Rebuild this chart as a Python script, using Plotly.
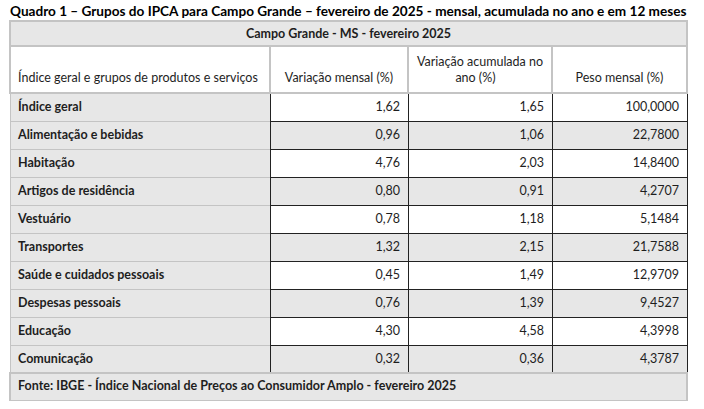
import plotly.graph_objects as go

W, H = 704, 409

title_text = "Quadro 1 – Grupos do IPCA para Campo Grande – fevereiro de 2025 - mensal, acumulada no ano e em 12 meses"
banner_text = "Campo Grande - MS - fevereiro 2025"
footer_text = "Fonte: IBGE - Índice Nacional de Preços ao Consumidor Amplo - fevereiro 2025"

col_headers = ["\u00a0<br>Índice geral e grupos de produtos e serviços", "\u00a0<br>Variação mensal (%)",
               "Variação acumulada no<br>" + "\u00a0" * 12 + "ano (%)", "\u00a0<br>Peso mensal (%)"]

grupos = ["Índice geral", "Alimentação e bebidas", "Habitação", "Artigos de residência",
          "Vestuário", "Transportes", "Saúde e cuidados pessoais", "Despesas pessoais",
          "Educação", "Comunicação"]
var_mensal = ["1,62", "0,96", "4,76", "0,80", "0,78", "1,32", "0,45", "0,76", "4,30", "0,32"]
var_acum = ["1,65", "1,06", "2,03", "0,91", "1,18", "2,15", "1,49", "1,39", "4,58", "0,36"]
peso = ["100,0000", "22,7800", "14,8400", "4,2707", "5,1484", "21,7588", "12,9709",
        "9,4527", "4,3998", "4,3787"]

GRAY = "#e7e7e7"
LGRID = "#c4c4c4"
TXT = "#1e1e1e"
FONT = "Lato"
FS = 12.5

x0, x1 = 10 / W, 687 / W
def yp(px):
    return 1 - px / H

fig = go.Figure()

# main table
alt = [("white" if i % 2 == 0 else GRAY) for i in range(len(grupos))]
fig.add_trace(go.Table(
    domain=dict(x=[x0, x1], y=[yp(385), yp(46)]),
    columnwidth=[260, 138, 144, 135],
    header=dict(values=col_headers, height=44,
                align=["left", "center", "center", "center"],
                fill=dict(color="white"), line=dict(color=LGRID, width=2),
                font=dict(family=FONT, size=FS, color=TXT)),
    cells=dict(values=[grupos, var_mensal, var_acum, peso],
               height=28,
               align=["left", "right", "right", "right"],
               fill=dict(color=[[GRAY] * len(grupos), alt, alt, alt]),
               line=dict(color=[LGRID, "#222222", "#222222", "#222222"], width=1),
               font=dict(family=FONT, size=FS, color=TXT,
                         weight=["bold", "normal", "normal", "normal"])),
))

# banner
fig.add_trace(go.Table(
    domain=dict(x=[x0, x1], y=[yp(46), yp(21)]),
    columnwidth=[677],
    header=dict(values=[banner_text], height=25, align="center",
                fill=dict(color=GRAY), line=dict(color=LGRID, width=2),
                font=dict(family=FONT, size=FS, color=TXT, weight="bold")),
    cells=dict(values=[[]]),
))

# footer
fig.add_trace(go.Table(
    domain=dict(x=[x0, x1], y=[yp(402), yp(373)]),
    columnwidth=[677],
    header=dict(values=[footer_text], height=28, align="left",
                fill=dict(color=GRAY), line=dict(color=LGRID, width=2),
                font=dict(family=FONT, size=FS, color=TXT, weight="bold")),
    cells=dict(values=[[]]),
))

fig.add_annotation(text=f"<b>{title_text}</b>", xref="paper", yref="paper",
                   x=8 / W, y=yp(11), xanchor="left", yanchor="middle", showarrow=False,
                   font=dict(family=FONT, size=13.6, color="#000000"))

fig.update_layout(width=W, height=H, margin=dict(l=0, r=0, t=0, b=0),
                  paper_bgcolor="white", plot_bgcolor="white")

fig.write_html("out.html", config={"displayModeBar": False},
               post_script="document.body.style.margin='0';")
